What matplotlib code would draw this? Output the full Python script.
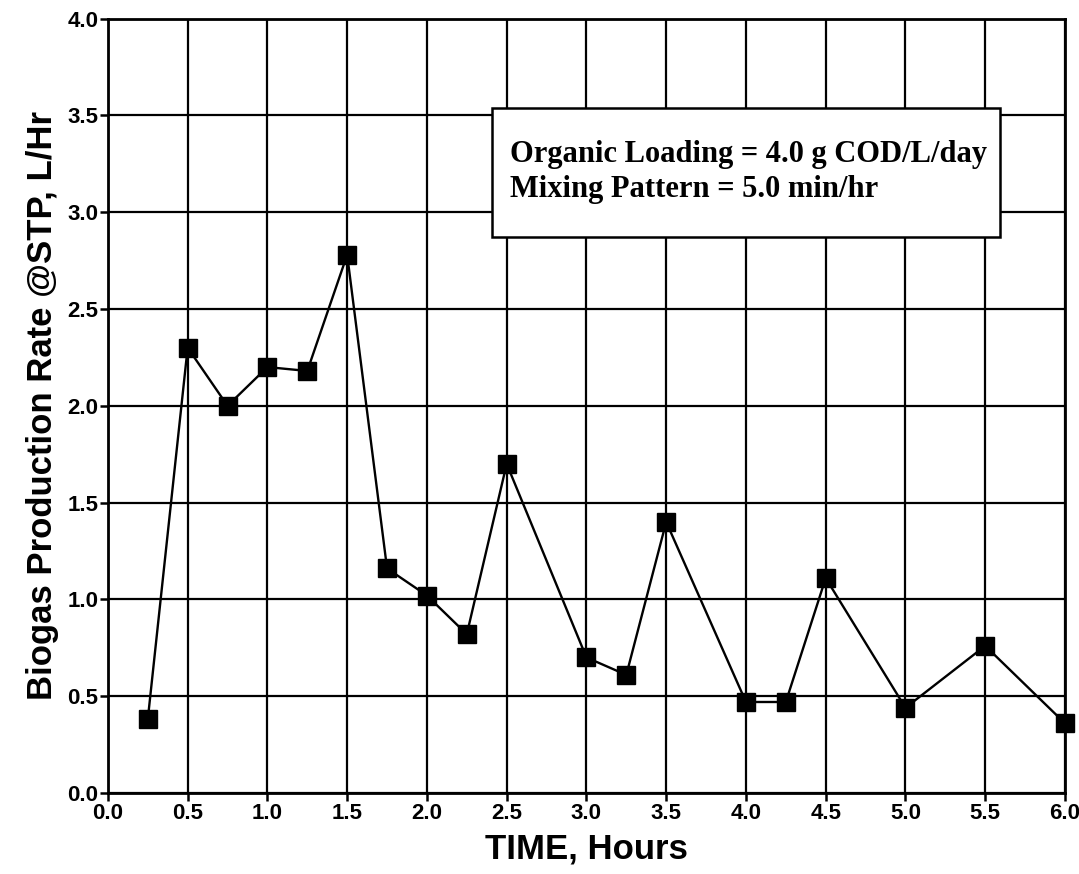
import numpy as np
import matplotlib
matplotlib.use('Agg')
import matplotlib.pyplot as plt

# 시간(hr)과 바이오가스 생산속도(L/hr)
time_hr = [0.25, 0.5, 0.75, 1.0, 1.25, 1.5, 1.75, 2.0, 2.25, 2.5,
           3.0, 3.25, 3.5, 4.0, 4.25, 4.5, 5.0, 5.5, 6.0]
biogas = [0.38, 2.30, 2.00, 2.20, 2.18, 2.78, 1.16, 1.02, 0.82, 1.70,
          0.70, 0.61, 1.40, 0.47, 0.47, 1.11, 0.44, 0.76, 0.36]

x_ticks = np.arange(0, 6.01, 0.5)
y_ticks = np.arange(0, 4.01, 0.5)

box_lines = ['Organic Loading = 4.0 g COD/L/day',
             'Mixing Pattern = 5.0 min/hr']

fig = plt.figure(figsize=(10.79, 8.74), dpi=100)
ax = fig.add_axes([0.100, 0.0927, 0.887, 0.886])

ax.plot(time_hr, biogas, color='black', linewidth=1.7,
        marker='s', markersize=13, markerfacecolor='black',
        markeredgecolor='black', zorder=3, clip_on=False)

ax.set_xlim(0, 6)
ax.set_ylim(0, 4)
ax.set_xticks(x_ticks)
ax.set_yticks(y_ticks)
ax.set_xticklabels(['%.1f' % v for v in x_ticks])
ax.set_yticklabels(['%.1f' % v for v in y_ticks])
ax.grid(True, color='black', linewidth=1.6)
ax.set_axisbelow(True)

for s in ax.spines.values():
    s.set_linewidth(2)
ax.tick_params(direction='out', length=6, width=1.8, pad=1,
               labelsize=16)
for lab in ax.get_xticklabels() + ax.get_yticklabels():
    lab.set_fontweight('bold')
    lab.set_family('Liberation Sans')

ax.set_xlabel('TIME, Hours', fontsize=25, fontweight='bold',
              family='Liberation Sans', labelpad=6)
ax.set_ylabel('Biogas Production Rate @STP, L/Hr', fontsize=25,
              fontweight='bold', family='Liberation Sans', labelpad=6)

# 조건 표시 박스
ax.add_patch(plt.Rectangle((2.41, 2.87), 3.18, 0.67, facecolor='white',
                           edgecolor='black', linewidth=1.8, zorder=4))
ax.text(2.52, 3.30, box_lines[0], fontsize=22, fontweight='bold',
        family='Liberation Serif', va='center', zorder=5)
ax.text(2.52, 3.115, box_lines[1], fontsize=22, fontweight='bold',
        family='Liberation Serif', va='center', zorder=5)

plt.savefig('out.png', dpi=100)
